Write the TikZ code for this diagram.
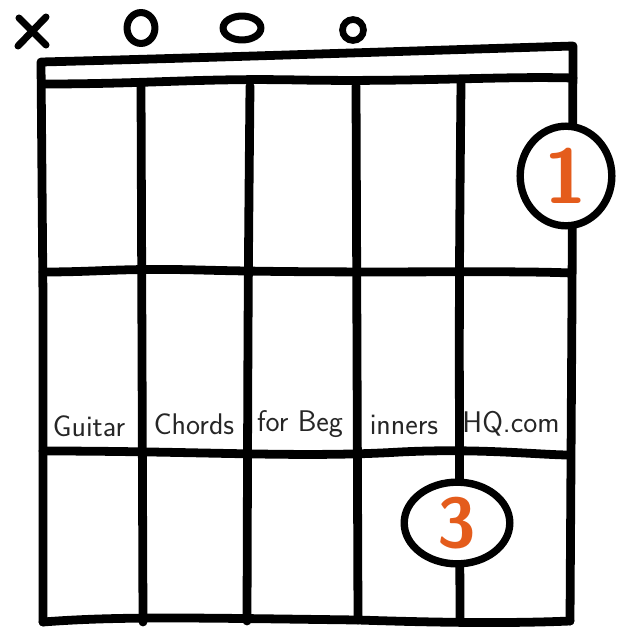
\documentclass[tikz,border=0pt]{standalone}
\usetikzlibrary{shapes.geometric}
\definecolor{fingerorange}{RGB}{228,92,28}
\tikzset{
  thick line/.style={line width=5pt, line cap=round, line join=round},
  marker line/.style={line width=4pt, line cap=round, line join=round},
  fingercircle/.style={ellipse, draw, line width=4.2pt, fill=white, inner sep=0pt},
  fingernum/.style={text=fingerorange, font=\sffamily\bfseries\fontsize{44}{44}\selectfont},
  wordlabel/.style={font=\sffamily\fontsize{17}{19}\selectfont, text=black!85, inner sep=0pt}
}
\begin{document}
\begin{tikzpicture}[x=0.02cm, y=-0.02cm]
\useasboundingbox[fill=white] (0,0) rectangle (616,629);
% corners
\coordinate (tl) at (41,62);
\coordinate (tr) at (573,46);
\coordinate (nl) at (43,84);
\coordinate (nr) at (573,78);
\coordinate (bl) at (43,622);
\coordinate (br) at (570,621);
% string tops/bottoms
\coordinate (s2t) at (141,84);  \coordinate (s2b) at (143,622);
\coordinate (s3t) at (250,86);  \coordinate (s3b) at (247,621);
\coordinate (s4t) at (356,86);  \coordinate (s4b) at (358,620);
\coordinate (s5t) at (461,83);  \coordinate (s5b) at (460,621);
% frets
\coordinate (f1l) at (43,272);  \coordinate (f1r) at (571,273);
\coordinate (f2l) at (43,451);  \coordinate (f2r) at (570,455);
% outline: left edge, top nut line, right edge
\draw[thick line] (bl) -- (43,300) -- (tl) .. controls (200,58) and (380,52) .. (tr) -- (572,300) -- (br);
% second nut line
\draw[thick line] (nl) .. controls (150,84) and (200,78) .. (300,80) .. controls (420,82) and (500,76) .. (nr);
% bottom line
\draw[thick line] (bl) .. controls (120,616) and (200,618) .. (358,620) .. controls (420,622) and (500,624) .. (br);
% strings
\draw[thick line] (s2t) -- (s2b);
\draw[thick line] (s3t) .. controls (248,300) .. (s3b);
\draw[thick line] (s4t) -- (s4b);
\draw[thick line] (s5t) .. controls (459,300) .. (s5b);
% frets
\draw[thick line] (f1l) .. controls (100,272) and (120,268) .. (200,270) .. controls (350,274) and (500,270) .. (f1r);
\draw[thick line] (f2l) .. controls (200,451) and (300,458) .. (400,452) .. controls (480,448) and (540,455) .. (f2r);
% open / muted markers
\draw[marker line] (19,18) -- (46,45);
\draw[marker line] (46,17) -- (18,46);
\node[ellipse, draw, line width=4pt, minimum width=28pt*0.567, minimum height=31pt*0.567, inner sep=0pt] (o2) at (141,28) {};
\node[ellipse, draw, line width=4pt, minimum width=38pt*0.567, minimum height=24pt*0.567, inner sep=0pt] (o3) at (242,28) {};
\node[circle, draw, line width=3.8pt, minimum size=21pt*0.567, inner sep=0pt] (o4) at (353,30) {};
% words
\node[wordlabel] (w1) at (89,426) {Guitar};
\node[wordlabel] (w2) at (194,424) {Chords};
\node[wordlabel] (w3) at (300,424) {for Beg};
\node[wordlabel] (w4) at (404,425) {inners};
\node[wordlabel] (w5) at (511,424) {HQ.com};
% finger circles
\node[fingercircle, minimum width=92pt*0.567, minimum height=100pt*0.567] (c1) at (566,176) {};
\node[fingernum] (n1) at (c1) {1};
\node[fingercircle, minimum width=106pt*0.567, minimum height=82pt*0.567] (c3) at (457,523) {};
\node[fingernum, font=\sffamily\bfseries\fontsize{40}{40}\selectfont] (n3) at (c3) {3};
\end{tikzpicture}
\end{document}
